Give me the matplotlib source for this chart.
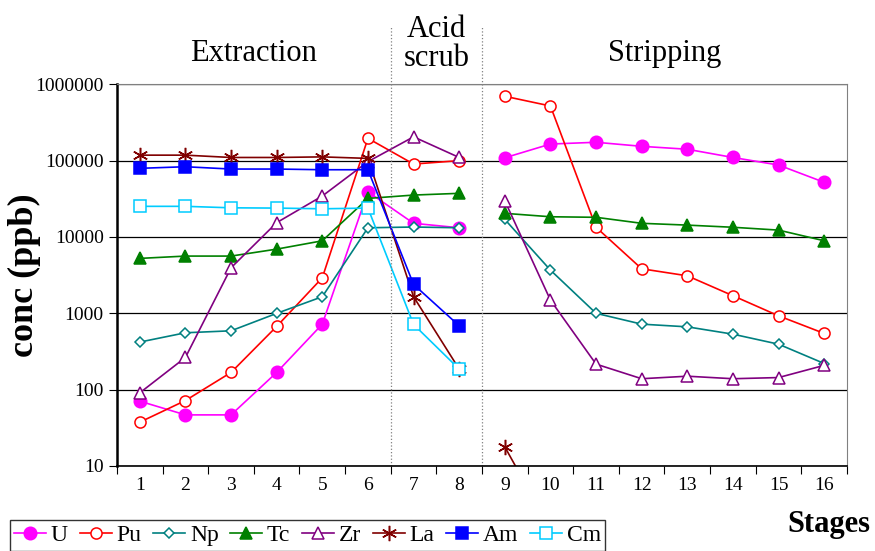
import numpy as np
import matplotlib
matplotlib.use('Agg')
import matplotlib.pyplot as plt

plt.rcParams['font.family'] = ['Liberation Serif', 'DejaVu Serif']

nan = np.nan
stages = list(range(1, 17))

# concentrations (ppb), stages 1..16
U = [70.6, 46.7, 46.7, 168, 721, 39100, 15100, 13200,
     109000, 165000, 174000, 154000, 141000, 110000, 87600, 52000]
Pu = [37.5, 72, 168, 673, 2920, 196000, 90200, 100000,
      697000, 520000, 13400, 3830, 3100, 1700, 927, 545]
Np = [420, 556, 590, 998, 1650, 13200, 13500, 13200,
      17000, 3680, 1000, 721, 665, 533, 394, 220]
Tc = [5240, 5620, 5620, 6930, 8910, 32000, 35400, 37300,
      20400, 18400, 18100, 15100, 14300, 13400, 12300, 8920]
Zr = [90.8, 264, 3950, 15400, 34400, 97000, 205000, 110000,
      29800, 1490, 216, 139, 150, 139, 144, 208]
La = [118000, 118000, 110000, 110000, 112000, 107000, 1650, 186,
      17.8, 1.5, nan, nan, nan, nan, nan, nan]
Am = [79300, 83200, 77600, 77600, 76000, 76000, 2390, 686,
      nan, nan, nan, nan, nan, nan, nan, nan]
Cm = [25200, 25200, 24100, 23900, 23400, 23900, 715, 186,
      nan, nan, nan, nan, nan, nan, nan, nan]

series = [
    ('U', U, '#FF00FF', 'o', True),
    ('Pu', Pu, '#FF0000', 'o', False),
    ('Np', Np, '#008080', 'D', False),
    ('Tc', Tc, '#008000', '^', True),
    ('Zr', Zr, '#800080', '^', False),
    ('La', La, '#800000', (6, 2, 0), True),
    ('Am', Am, '#0000FF', 's', True),
    ('Cm', Cm, '#00CCFF', 's', False),
]

fig = plt.figure(figsize=(8.75, 5.51), dpi=100)
ax = fig.add_axes([0.1337, 0.1543, 0.8343, 0.6927])

x = np.array(stages)
handles = []
for name, vals, col, mk, filled in series:
    v = np.array(vals, dtype=float)
    ms = 8
    if mk == 'D':
        ms = 5
    elif mk == 'o' and filled:
        ms = 9
    elif name == 'La':
        ms = 11
    kw = dict(color=col, marker=mk, markersize=ms, linewidth=1.2,
              markeredgewidth=1.1,
              markerfacecolor=col if filled else 'white',
              markeredgecolor=col)
    # extraction + scrub (1-8) and stripping (9-16) are not joined
    h, = ax.plot(x[:8], v[:8], label=name, **kw)
    ax.plot(x[8:], v[8:], **kw)
    handles.append(h)

ax.set_yscale('log')
ax.set_ylim(10, 1e6)
ax.set_xlim(0.5, 16.5)
ax.set_yticks([10, 100, 1000, 10000, 100000, 1000000])
ax.set_yticklabels(['10', '100', '1000', '10000', '100000', '1000000'], fontsize=14)
ax.yaxis.set_minor_locator(matplotlib.ticker.NullLocator())
ax.set_xticks(np.arange(0.5, 16.6, 1))
ax.set_xticklabels([])
ax.set_xticks(stages, minor=True)
ax.set_xticklabels([str(s) for s in stages], minor=True, fontsize=14)
ax.tick_params(axis='x', which='minor', length=0, pad=8)
ax.tick_params(axis='x', which='major', length=6, direction='out')
ax.tick_params(axis='y', length=6, direction='out')

ax.grid(axis='y', which='major', color='black', linewidth=0.9)
ax.set_axisbelow(True)
for s in ['top', 'right']:
    ax.spines[s].set_color('#808080')
ax.spines['left'].set_linewidth(1.8)
ax.spines['bottom'].set_linewidth(1.2)

# section separators
for xs in [6.5, 8.5]:
    ax.plot([xs, xs], [0, 1.15], transform=ax.get_xaxis_transform(),
            color='#808080', linestyle=':', linewidth=0.9, clip_on=False)

tr = ax.get_xaxis_transform()
ax.text(3.5, 1.08, 'Extraction', transform=tr, ha='center', va='center', fontsize=22)
ax.text(7.5, 1.105, 'Acid\nscrub', transform=tr, ha='center', va='center',
        fontsize=22, linespacing=1.0)
ax.text(12.5, 1.08, 'Stripping', transform=tr, ha='center', va='center', fontsize=22)

fig.text(0.028, 0.5, 'conc (ppb)', rotation=90, ha='center', va='center',
         fontsize=26, fontweight='bold')
fig.text(0.995, 0.048, 'Stages', ha='right', va='center',
         fontsize=22, fontweight='bold')

leg = fig.legend(handles=handles, loc='lower left', bbox_to_anchor=(0.011, 0.0),
                 ncol=8, fontsize=17, frameon=True, fancybox=False,
                 edgecolor='black', handlelength=1.35, handletextpad=0.2,
                 columnspacing=0.5, borderpad=0.2, borderaxespad=0)
leg.get_frame().set_linewidth(1.0)

fig.savefig('out.png', dpi=100)
